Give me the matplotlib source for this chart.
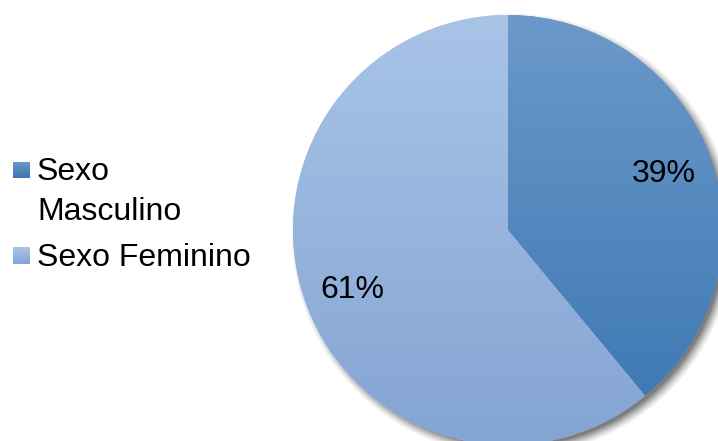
import numpy as np
import matplotlib.pyplot as plt
from matplotlib.colors import LinearSegmentedColormap
from matplotlib.patches import Rectangle

plt.rcParams['font.family'] = ['Liberation Sans', 'DejaVu Sans']

labels = ['Sexo\nMasculino', 'Sexo Feminino']
values = [39, 61]
# gradient colours, top -> bottom
grad_top = ['#6b99c9', '#a8c4e7']
grad_bot = ['#3a76b2', '#84a4d3']

W, H = 718, 441
fig = plt.figure(figsize=(W / 100, H / 100), dpi=100)
ax = fig.add_axes([0, 0, 1, 1])

cx, cy, R = 508, H - 230, 215

# soft drop shadow under the pie
yy, xx = np.mgrid[0:H, 0:W]
d = np.hypot(xx + 0.5 - (cx + 5), (H - yy - 0.5) - (cy - 5))
t = np.clip((d - (R - 4)) / 11.0, 0, 1)
alpha = 0.7 * (1 - t) ** 1.3
shadow = np.zeros((H, W, 4))
shadow[..., :3] = 0.28
shadow[..., 3] = alpha
ax.imshow(shadow, extent=(0, W, 0, H), origin='upper', zorder=0, interpolation='bilinear')

wedges, texts, autotexts = ax.pie(values, startangle=90, counterclock=False,
                                  radius=R, center=(cx, cy), autopct='%1.0f%%',
                                  pctdistance=0.77, colors=grad_top,
                                  textprops={'fontsize': 23, 'color': 'black'})

# vertical gradient fill clipped to each wedge
for w, c0, c1 in zip(wedges, grad_top, grad_bot):
    cmap = LinearSegmentedColormap.from_list('g', [c0, c1])
    grad = np.linspace(0, 1, 256).reshape(-1, 1)
    im = ax.imshow(grad, cmap=cmap, aspect='auto', origin='upper',
                   extent=(cx - R, cx + R, cy - R, cy + R), zorder=2)
    im.set_clip_path(w)
for t_ in autotexts:
    t_.set_zorder(5)
autotexts[1].set_y(autotexts[1].get_position()[1] - 4)

# legend on the left
leg_y = [H - 170, H - 255.5]
for lab, y, c0, c1 in zip(labels, leg_y, grad_top, grad_bot):
    cmap = LinearSegmentedColormap.from_list('g', [c0, c1])
    grad = np.linspace(0, 1, 64).reshape(-1, 1)
    sq = Rectangle((13, y - 8.5), 17, 17, transform=ax.transData, facecolor='none')
    ax.add_patch(sq)
    im = ax.imshow(grad, cmap=cmap, aspect='auto', origin='upper',
                   extent=(13, 30, y - 8.5, y + 8.5), zorder=3)
    im.set_clip_path(sq)
    ax.text(37, y + 13, lab, fontsize=23, va='top', ha='left', linespacing=1.45)

ax.set_xlim(0, W)
ax.set_ylim(0, H)
ax.set_aspect('equal')
ax.axis('off')

fig.savefig('out.png', dpi=100)
